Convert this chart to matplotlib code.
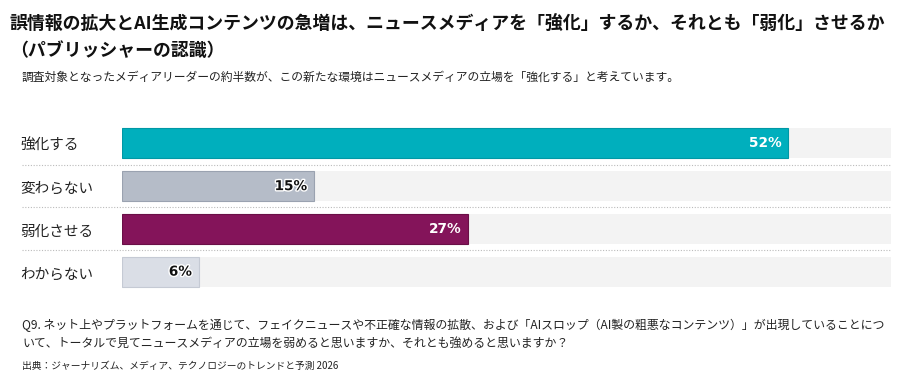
import matplotlib
matplotlib.use("Agg")
import matplotlib.pyplot as plt
import matplotlib.patheffects as pe
from matplotlib.transforms import blended_transform_factory

plt.rcParams['font.family'] = ['Noto Sans CJK JP', 'DejaVu Sans']

categories = ["強化する", "変わらない", "弱化させる", "わからない"]
values = [52, 15, 27, 6]
value_labels = ["52%", "15%", "27%", "6%"]
colors = ["#00AFBD", "#B5BCC8", "#84145A", "#DADEE6"]
edge_colors = ["#0098A5", "#9AA2B0", "#6A0F47", "#C5CAD4"]
label_colors = ["white", "#111111", "white", "#111111"]
xmax = 60

title_lines = ["誤情報の拡大とAI生成コンテンツの急増は、ニュースメディアを「強化」するか、それとも「弱化」させるか",
               "（パブリッシャーの認識）"]
subtitle = "調査対象となったメディアリーダーの約半数が、この新たな環境はニュースメディアの立場を「強化する」と考えています。"
note_lines = ["Q9. ネット上やプラットフォームを通じて、フェイクニュースや不正確な情報の拡散、および「AIスロップ（AI製の粗悪なコンテンツ）」が出現していることにつ",
              "いて、トータルで見てニュースメディアの立場を弱めると思いますか、それとも強めると思いますか？"]
source = "出典：ジャーナリズム、メディア、テクノロジーのトレンドと予測 2026"

W, H = 907, 380
fig = plt.figure(figsize=(W / 100, H / 100), dpi=100)
fig.patch.set_facecolor("white")

ax_left, ax_right = 122, 891
ax_top, ax_bot = 122, 293
ax = fig.add_axes([ax_left / W, 1 - ax_bot / H, (ax_right - ax_left) / W, (ax_bot - ax_top) / H])
ax.set_xlim(0, xmax)
ax.set_ylim(3.5, -0.5)
ax.axis("off")

n = len(categories)
ypos = list(range(n))
bh = 0.70
ax.barh(ypos, [xmax] * n, height=bh, color="#F3F3F3", edgecolor="none", zorder=1)
ax.barh(ypos, values, height=bh, color=colors, edgecolor=edge_colors, linewidth=0.8, zorder=2)

trans = blended_transform_factory(ax.transAxes, ax.transData)
xlab = (20 - ax_left) / (ax_right - ax_left)
for i, (c, v, lab, lc) in enumerate(zip(categories, values, value_labels, label_colors)):
    ax.annotate(c, (xlab, i), xycoords=trans, xytext=(0, -2), textcoords="offset points",
                ha="left", va="center", fontsize=10.5, color="#222222")
    effects = [pe.withStroke(linewidth=2, foreground="white")] if lc != "white" else []
    ax.annotate(lab, (v, i), xytext=(-5, 0), textcoords="offset points", ha="right", va="center",
                fontsize=9.8, fontweight="bold", color=lc, path_effects=effects, zorder=3,
                family=["DejaVu Sans"])
for i in range(n - 1):
    ax.plot([(22 - ax_left) / (ax_right - ax_left), 1], [i + 0.5, i + 0.5], transform=trans,
            color="#BBBBBB", linestyle=(0, (1, 1.5)), linewidth=0.8, clip_on=False)

for yy, t in zip([25, 51], title_lines):
    fig.text(10 / W, 1 - yy / H, t, ha="left", va="center", fontsize=12.9, fontweight="bold",
             color="#111111")
fig.text(22 / W, 1 - 77 / H, subtitle, ha="left", va="center", fontsize=8.5, color="#222222")
for yy, t in zip([325, 343], note_lines):
    fig.text(22 / W, 1 - yy / H, t, ha="left", va="center", fontsize=8.6, color="#222222")
fig.text(22 / W, 1 - 366 / H, source, ha="left", va="center", fontsize=7.0, color="#222222")

fig.savefig("out.png", dpi=100, facecolor="white")
